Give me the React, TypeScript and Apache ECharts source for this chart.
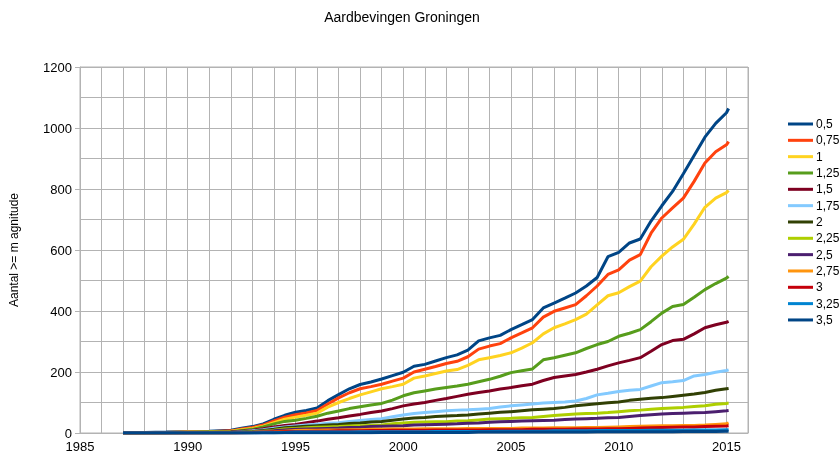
import React, { useEffect, useRef } from "react";
import * as echarts from "echarts";

const years = [1987, 1988, 1989, 1990, 1991, 1992, 1992.5, 1993, 1993.5, 1994, 1994.5, 1995, 1995.5, 1996, 1996.5, 1997, 1997.5, 1998, 1998.5, 1999, 1999.5, 2000, 2000.5, 2001, 2001.5, 2002, 2002.5, 2003, 2003.5, 2004, 2004.5, 2005, 2005.5, 2006, 2006.5, 2007, 2007.5, 2008, 2008.5, 2009, 2009.5, 2010, 2010.5, 2011, 2011.5, 2012, 2012.5, 2013, 2013.5, 2014, 2014.5, 2015, 2015.1];

const m05 = [1,2,3,5,6, 9,16,21,30,45,58,68,74,82,106,126,145,159,167,177,188,199,219,225,236,247,256,272,302,312,320,339,355,372,410,426,442,459,482,510,578,592,623,636,695,745,792,850,910,970,1015,1050,1064];
const m075 = [1,1,2,3,4, 7,13,18,26,40,52,60,66,74,95,115,132,145,152,160,170,180,200,209,218,228,235,250,275,285,293,312,328,345,380,399,410,421,450,482,520,535,567,585,655,705,738,770,825,885,922,945,955];
const m1 = [1,1,2,3,4, 6,11,15,22,34,45,52,58,65,85,100,113,125,135,145,152,160,180,187,195,203,208,222,240,247,254,263,278,296,325,345,358,372,390,420,450,460,480,498,545,580,610,635,685,740,770,788,795];
const m125 = [0,1,1,2,3, 4,8,12,20,30,38,42,48,55,65,72,80,86,92,97,108,122,132,138,144,149,154,160,168,176,186,198,204,210,240,247,255,263,277,290,300,317,327,339,365,393,415,421,445,470,490,508,513];
const m15 = [0,1,1,2,2, 3,6,9,14,20,25,28,34,39,45,50,56,61,67,72,80,89,95,100,107,113,120,127,133,138,144,149,155,160,172,182,187,192,200,209,220,230,238,247,268,290,303,307,325,345,355,363,366];
const m175 = [0,0,1,1,1, 2,4,7,11,16,20,23,26,29,32,34,38,41,44,47,53,59,64,67,70,73,75,76,78,80,85,89,92,95,98,100,102,105,113,125,130,136,140,143,154,165,168,172,187,192,199,205,207];
const m2 = [0,0,1,1,1, 2,3,5,8,12,17,20,22,24,26,28,31,33,36,38,42,46,49,51,54,56,57,59,62,65,68,70,73,76,78,80,84,89,93,96,99,102,107,111,114,116,120,124,128,133,140,145,146];
const m225 = [0,0,0,1,1, 1,2,4,6,9,13,15,17,19,20,21,23,24,25,26,30,33,35,36,37,37,39,40,43,46,47,48,50,51,54,57,60,62,64,65,67,70,73,75,78,80,82,84,87,89,94,97,98];
const m25 = [0,0,0,0,1, 1,2,3,5,7,10,12,13,14,15,16,18,19,21,22,23,24,26,27,28,29,30,32,33,35,37,38,39,40,41,42,44,46,47,48,50,51,54,57,60,62,64,65,66,67,70,73,74];
const m275 = [0,0,0,0,0, 0,1,2,3,4,6,8,9,9,10,10,11,11,12,12,13,13,13,14,14,14,14,15,15,15,15,15,16,16,16,17,17,17,18,18,19,20,21,22,23,24,24,25,25,26,28,30,33];
const m3 = [0,0,0,0,0, 0,0,1,2,3,4,5,5,6,6,7,7,7,8,8,9,9,9,9,10,10,10,10,10,11,11,11,11,12,12,12,12,13,13,13,14,14,15,16,17,18,19,20,20,21,22,23,24];
const m325 = [0,0,0,0,0, 0,0,0,1,1,2,3,3,3,3,3,3,4,4,4,4,4,4,4,5,5,5,5,5,5,6,6,6,6,6,7,7,7,7,8,8,8,8,8,9,9,9,9,10,10,10,11,11];
const m35 = [0,0,0,0,0, 0,0,0,0,0,1,1,1,1,1,1,1,1,1,2,2,2,2,2,2,2,2,2,3,3,3,3,3,3,3,3,3,3,3,4,4,4,4,4,4,4,4,5,5,5,5,6,6];

const seriesNames = ["0,5", "0,75", "1", "1,25", "1,5", "1,75", "2", "2,25", "2,5", "2,75", "3", "3,25", "3,5"];
const seriesValues = [m05, m075, m1, m125, m15, m175, m2, m225, m25, m275, m3, m325, m35];
const colors = ["#004586", "#ff420e", "#ffd320", "#579d1c", "#7e0021", "#83caff", "#314004", "#aecf00", "#4b1f6f", "#ff950e", "#c5000b", "#0084d1", "#004586"];

const title = "Aardbevingen Groningen";
const yName = "Aantal >= m agnitude";

const FONT = "'Liberation Sans', Arial, sans-serif";

export default function App() {
  const ref = useRef<HTMLDivElement>(null);
  useEffect(() => {
    if (!ref.current) return;
    const chart = echarts.init(ref.current, null, { renderer: "svg" });
    const gridColor = "#b3b3b3";
    chart.setOption({
      animation: false,
      color: colors,
      textStyle: { fontFamily: FONT },
      graphic: [
        {
          type: "text",
          x: 402,
          y: 17,
          style: {
            text: title,
            fontFamily: FONT,
            fontSize: 14,
            fill: "#000",
            textAlign: "center",
            textVerticalAlign: "middle",
          },
        },
      ],
      legend: {
        orient: "vertical",
        left: 788,
        top: 118,
        padding: 0,
        icon: "rect",
        itemWidth: 25,
        itemHeight: 3,
        itemGap: 4.33,
        textStyle: { fontFamily: FONT, fontSize: 12, color: "#000", padding: [0, 0, 0, -2] },
        data: seriesNames,
      },
      grid: {
        left: 77,
        right: 92,
        top: 67,
        bottom: 24,
        show: true,
        borderColor: gridColor,
        borderWidth: 1,
      },
      xAxis: {
        type: "value",
        min: 1985,
        max: 2016,
        interval: 1,
        axisLine: { show: true, lineStyle: { color: gridColor } },
        axisTick: { show: false },
        splitLine: { show: true, lineStyle: { color: gridColor } },
        axisLabel: {
          color: "#000",
          fontSize: 13,
          margin: 7,
          showMaxLabel: false,
          formatter: (v: number) => (Math.round(v) % 5 === 0 ? String(Math.round(v)) : ""),
        },
      },
      yAxis: {
        type: "value",
        min: 0,
        max: 1200,
        interval: 200,
        name: yName,
        nameLocation: "middle",
        nameRotate: 90,
        nameGap: 60,
        nameTextStyle: { fontFamily: FONT, fontSize: 12, color: "#000" },
        axisLine: { show: true, lineStyle: { color: gridColor } },
        axisTick: { show: true, length: 5, lineStyle: { color: gridColor } },
        splitLine: { show: true, lineStyle: { color: gridColor } },
        minorTick: { show: false, splitNumber: 2 },
        minorSplitLine: { show: true, lineStyle: { color: gridColor } },
        axisLabel: { color: "#000", fontSize: 13, margin: 8, formatter: (v: number) => String(v) },
      },
      series: seriesNames.map((name, i) => ({
        name,
        type: "line",
        symbol: "none",
        data: years.map((y, j) => [y, seriesValues[i][j]]),
        lineStyle: { width: 3, color: colors[i] },
        itemStyle: { color: colors[i] },
      })),
    });
    return () => chart.dispose();
  }, []);
  return <div ref={ref} style={{ position: "fixed", left: 0, top: 0, width: 840, height: 457 }} />;
}
